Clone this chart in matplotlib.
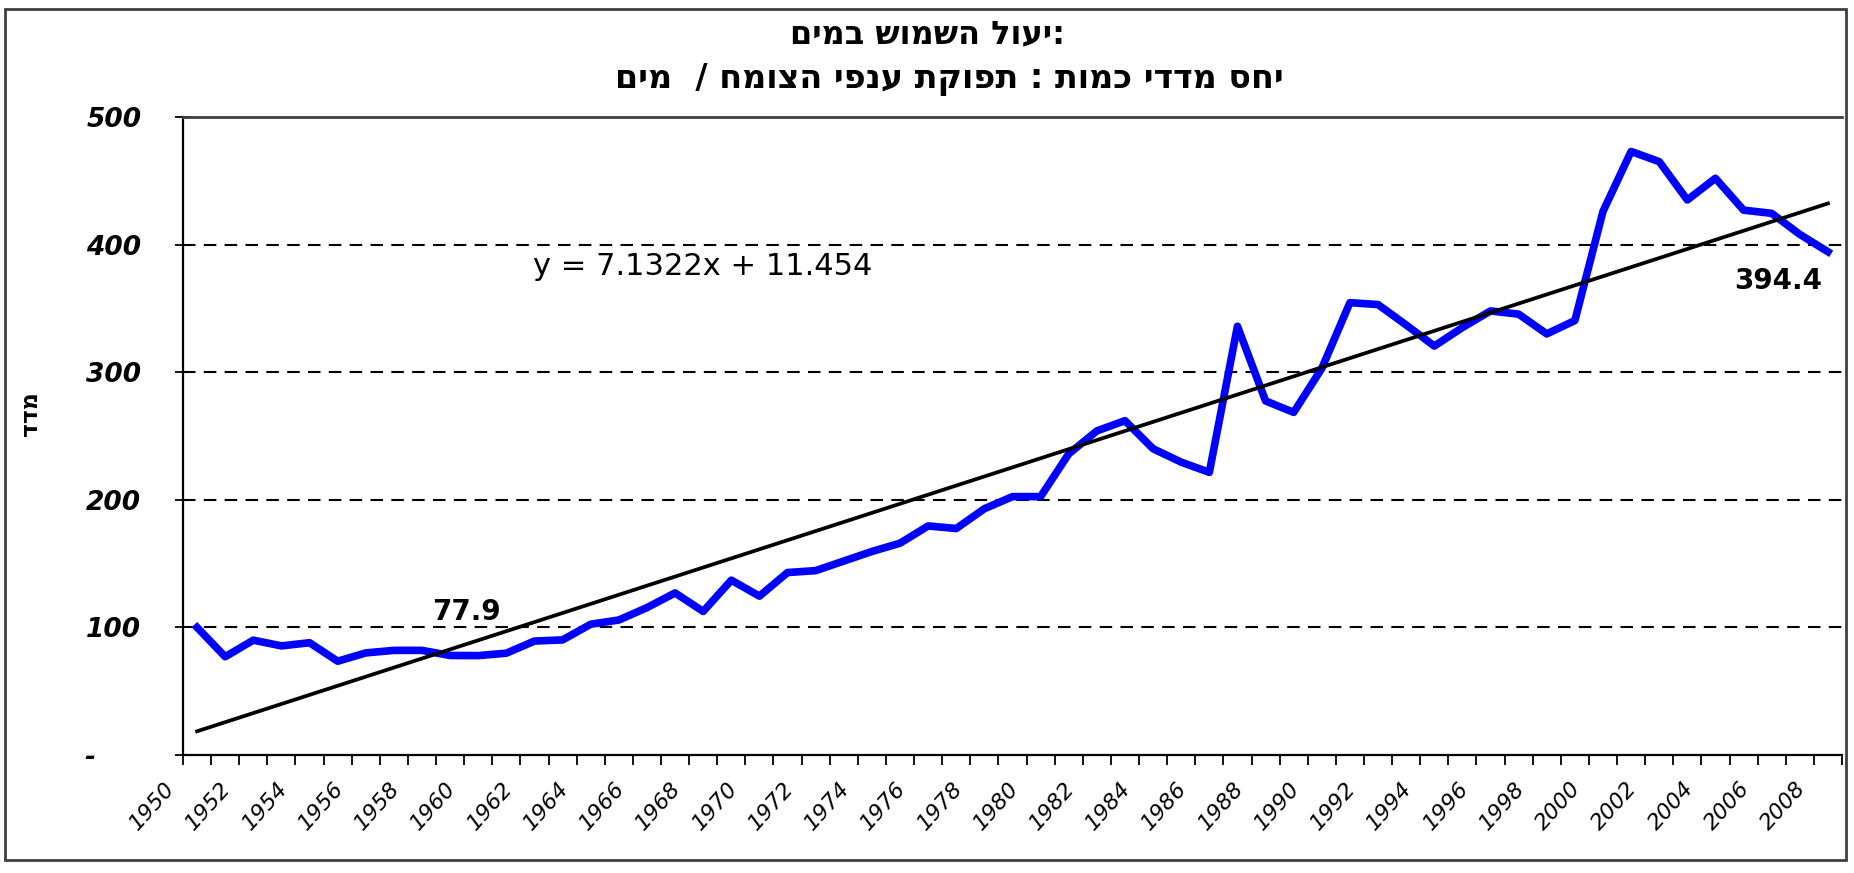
import matplotlib.pyplot as plt
import matplotlib.transforms as mtransforms
from matplotlib.patches import Rectangle
import numpy as np

plt.rcParams['font.family'] = ['DejaVu Sans']

# Hebrew text (logical order); matplotlib has no bidi, so reversed for display
title_1 = 'יעול השמוש במים'
title_2 = 'יחס מדדי כמות : תפוקת ענפי הצומח /  מים'
y_title = 'מדד'


def rtl(s):
    return s[::-1]


# index values, one per year (59 categories)
values = [100.0, 77.0, 90.0, 85.5, 88.0, 73.5, 80.0, 82.0, 82.0, 78.0,
          77.9, 79.8, 89.3, 90.2, 102.5, 105.8, 115.5, 127.0, 112.5, 137.0,
          124.5, 143.0, 144.5, 152.0, 159.5, 166.0, 179.5, 177.5, 193.0, 202.5,
          202.5, 236.0, 254.0, 262.0, 240.0, 229.5, 221.5, 336.0, 277.5, 268.5,
          303.0, 354.5, 353.0, 337.0, 320.5, 335.0, 348.0, 345.5, 330.0, 340.5,
          426.0, 473.0, 465.0, 435.0, 452.0, 427.0, 424.5, 408.0, 394.4]
tick_years = list(range(1950, 2009, 2))
y_ticks = [0, 100, 200, 300, 400, 500]
y_tick_labels = ['-     ', '100', '200', '300', '400', '500']

# linear trendline shown in the chart
slope = 7.1322
intercept = 11.454

fig = plt.figure(figsize=(18.54, 8.73), dpi=100)
ax = fig.add_axes([183 / 1854, 1 - 755 / 873, (1842 - 183) / 1854, (755 - 117) / 873])

n = len(values)
x = np.arange(n) + 0.5

# dashed gridlines
for g in y_ticks[1:-1]:
    ax.axhline(g, color='black', lw=1.5, dashes=(6, 4), zorder=0)

ax.plot(x, values, color='#0000FF', lw=5.5, solid_joinstyle='round', zorder=3)
ax.plot(x, slope * (np.arange(n) + 1) + intercept, color='black', lw=2.7, zorder=4)

ax.set_xlim(0, n)
ax.set_ylim(0, 500)

ax.set_xticks(np.arange(0, n, 2))
ax.set_xticks(np.arange(1, n + 1, 2), minor=True)
ax.set_xticklabels([str(y) for y in tick_years], rotation=48, ha='right', va='top',
                   rotation_mode='anchor', fontsize=16, fontstyle='italic')
ax.tick_params(axis='x', which='both', direction='out', length=7, width=1.3, pad=10)
offset = mtransforms.ScaledTranslation(-0.19, 0, fig.dpi_scale_trans)
for lbl in ax.get_xticklabels():
    lbl.set_transform(lbl.get_transform() + offset)

ax.set_yticks(y_ticks)
ax.set_yticklabels(y_tick_labels, fontsize=19, fontweight='bold', fontstyle='italic')
ax.tick_params(axis='y', direction='inout', length=12, width=1.3, pad=24)

for side in ['left', 'bottom']:
    ax.spines[side].set_linewidth(1.6)
ax.spines['top'].set_linewidth(2)
ax.spines['top'].set_color('#404040')
ax.spines['right'].set_visible(False)

# data labels and trend equation
ax.annotate('77.9', xy=(x[10], values[10]), xytext=(-12, 44), textcoords='offset pixels',
            ha='center', va='center', fontsize=20, fontweight='bold')
ax.annotate('394.4', xy=(x[-1], values[-1]), xytext=(-50, -29), textcoords='offset pixels',
            ha='center', va='center', fontsize=20, fontweight='bold')
ax.text(0.313, 0.765, 'y = 7.1322x + 11.454', transform=ax.transAxes,
        ha='center', va='center', fontsize=22)

# titles
fig.text(0.5, 1 - 35 / 873, rtl(title_1) + ':', ha='center', va='center',
         fontsize=23, fontweight='bold')
fig.text(0.512, 1 - 80 / 873, rtl(title_2), ha='center', va='center',
         fontsize=24, fontweight='bold')
fig.text(30 / 1854, 1 - 414 / 873, rtl(y_title), rotation=90, ha='center', va='center',
         fontsize=17, fontweight='bold')

# outer chart border
fig.patches.append(Rectangle((5 / 1854, 1 - 860 / 873), (1846 - 5) / 1854, (860 - 9) / 873,
                             transform=fig.transFigure, fill=False, lw=2, edgecolor='#404040'))

plt.savefig('out.png', dpi=100)
plt.close()
